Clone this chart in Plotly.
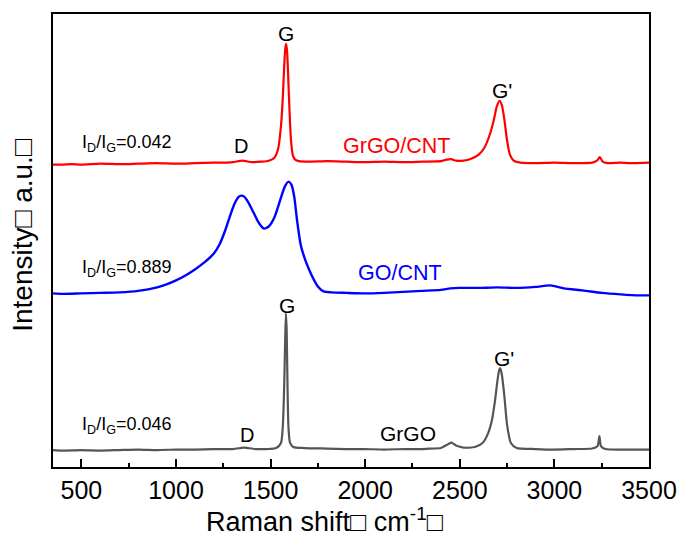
import plotly.graph_objects as go

# Raman shift (cm-1) and intensity (a.u., offset spectra)
x_grgo_cnt = [350, 400, 450, 500, 600, 700, 800, 900, 1000, 1100, 1200, 1250, 1300, 1330, 1350, 1370,
              1400, 1450, 1490, 1520, 1540, 1555, 1565, 1572, 1578, 1582, 1587, 1593, 1600, 1608, 1618,
              1630, 1650, 1700, 1800, 1900, 2000, 2100, 2200, 2300, 2400, 2430, 2455, 2480, 2520, 2560,
              2600, 2630, 2660, 2680, 2695, 2710, 2722, 2735, 2750, 2765, 2785, 2820, 2900, 3000, 3100,
              3200, 3225, 3240, 3255, 3280, 3350, 3400, 3500]
y_grgo_cnt = [303, 303, 303.5, 303, 304, 303.5, 304, 304.5, 304, 304.5, 305, 305, 305.5, 306.5, 307, 306.5,
              305.5, 306, 307, 310, 319, 342, 372, 402, 420, 424, 417, 392, 357, 327, 312,
              308, 306.5, 306, 306.5, 306, 305.5, 306, 305.5, 306, 306.5, 308, 308.5, 307, 307, 309,
              313, 320, 334, 348, 361, 367, 363, 349, 327, 313, 307, 305, 304.5, 305, 304.5,
              305, 307, 310.5, 306, 304.5, 305, 304.5, 305]

x_go_cnt = [350, 400, 500, 600, 700, 800, 900, 950, 1000, 1050, 1100, 1150, 1200, 1230, 1260, 1290, 1310,
            1330, 1345, 1360, 1380, 1410, 1440, 1465, 1490, 1520, 1550, 1575, 1595, 1610, 1625, 1640,
            1660, 1690, 1720, 1750, 1780, 1820, 1900, 2000, 2100, 2200, 2300, 2400, 2450, 2500, 2600,
            2700, 2800, 2900, 2980, 3050, 3150, 3250, 3350, 3450, 3500]
y_go_cnt = [174, 173.5, 174, 174.5, 175, 176.5, 180, 183, 187, 192, 198, 205, 214, 223, 237, 254, 264,
            270.5, 272, 271, 266, 255, 244, 239, 241, 250, 267, 281, 286, 283, 271, 247,
            222, 204, 191, 181, 176, 175, 174.5, 174, 174.5, 175.5, 176.5, 177.5, 179, 179.5, 179.5,
            180, 179.5, 180.5, 182, 179, 177, 174.5, 173, 172, 172]

x_grgo = [350, 400, 500, 600, 700, 800, 900, 1000, 1100, 1200, 1300, 1340, 1360, 1380, 1420, 1480, 1530,
          1555, 1565, 1572, 1577, 1581, 1585, 1589, 1594, 1602, 1620, 1680, 1800, 1900, 2000, 2100, 2200,
          2300, 2350, 2400, 2430, 2455, 2480, 2520, 2580, 2620, 2650, 2670, 2685, 2698, 2708, 2714, 2722,
          2735, 2750, 2770, 2800, 2900, 3000, 3100, 3200, 3228, 3238, 3246, 3270, 3400, 3500]
y_grgo = [17, 16.5, 17, 16.5, 17, 17.5, 17, 17.5, 17.5, 18, 18, 19, 19.5, 19, 18, 18, 19,
          24, 42, 82, 127, 154, 137, 87, 42, 25, 20, 19, 18.5, 18, 18, 17.5, 18,
          18, 18.5, 19, 22, 24.5, 21.5, 19.5, 20, 24, 34, 47, 65, 85, 97, 99, 93,
          72, 42, 24, 19, 18, 17.5, 18, 18.5, 21, 31, 21, 18, 17.5, 17.5]

x_ticks = [500, 1000, 1500, 2000, 2500, 3000, 3500]

series = [
    (x_grgo_cnt, y_grgo_cnt, "#FF0000", 2.2, "GrGO/CNT"),
    (x_go_cnt, y_go_cnt, "#0000FF", 2.4, "GO/CNT"),
    (x_grgo, y_grgo, "#555555", 2.2, "GrGO"),
]

fig = go.Figure()
for xs, ys, col, lw, name in series:
    fig.add_trace(go.Scatter(x=xs, y=ys, mode="lines", name=name,
                             line=dict(color=col, width=lw, shape="spline", smoothing=0.6)))

FONT = "Liberation Sans, Arial, sans-serif"
ann = [
    (1582, 434, "G", "black", 21, "center"),
    (2724, 377, "G'", "black", 21, "center"),
    (1346, 322, "D", "black", 20, "center"),
    (2169, 322, "GrGO/CNT", "#FF0000", 21.5, "center"),
    (491, 324, "I<sub>D</sub>/I<sub>G</sub>=0.042", "black", 18, "left"),
    (491, 199, "I<sub>D</sub>/I<sub>G</sub>=0.889", "black", 18, "left"),
    (2184, 194, "GO/CNT", "#0000FF", 21.5, "center"),
    (1587, 162, "G", "black", 21, "center"),
    (2735, 109, "G'", "black", 21, "center"),
    (1377, 32, "D", "black", 20, "center"),
    (2226, 34, "GrGO", "black", 21, "center"),
    (491, 42, "I<sub>D</sub>/I<sub>G</sub>=0.046", "black", 18, "left"),
]
for x, y, t, c, s, xa in ann:
    fig.add_annotation(x=x, y=y, text=t, showarrow=False, xanchor=xa, yanchor="middle",
                       font=dict(family=FONT, size=s, color=c))

# axis titles placed as annotations (paper pixels -> paper fractions)
fig.add_annotation(xref="paper", yref="paper", x=(327 - 53) / 601, y=(467 - 520) / 454,
                   text="Raman shift\u25a1 cm<sup>-1</sup>\u25a1", showarrow=False,
                   xanchor="center", yanchor="middle", font=dict(family=FONT, size=27, color="black"))
fig.add_annotation(xref="paper", yref="paper", x=(22 - 53) / 601, y=(467 - 235) / 454,
                   text="Intensity\u25a1 a.u.\u25a1", showarrow=False, textangle=-90,
                   xanchor="center", yanchor="middle", font=dict(family=FONT, size=28, color="black"))

fig.update_layout(
    width=689, height=539,
    margin=dict(l=53, r=35, t=13, b=72),
    paper_bgcolor="white", plot_bgcolor="white",
    showlegend=False,
    font=dict(family=FONT, color="black"),
)
fig.update_xaxes(
    range=[350, 3500], tickvals=x_ticks, ticktext=[str(v) for v in x_ticks],
    ticks="inside", ticklen=8, tickwidth=2, tickcolor="black",
    minor=dict(ticks="inside", ticklen=4, tickwidth=1.5, dtick=250, tick0=250, tickcolor="black"),
    showline=True, linewidth=2, linecolor="black", mirror=True, showgrid=False, zeroline=False,
    tickfont=dict(family=FONT, size=25),
)
fig.update_yaxes(
    range=[0, 454], showticklabels=False, ticks="",
    showline=True, linewidth=2, linecolor="black", mirror=True, showgrid=False, zeroline=False,
)

fig.write_html("out.html")
